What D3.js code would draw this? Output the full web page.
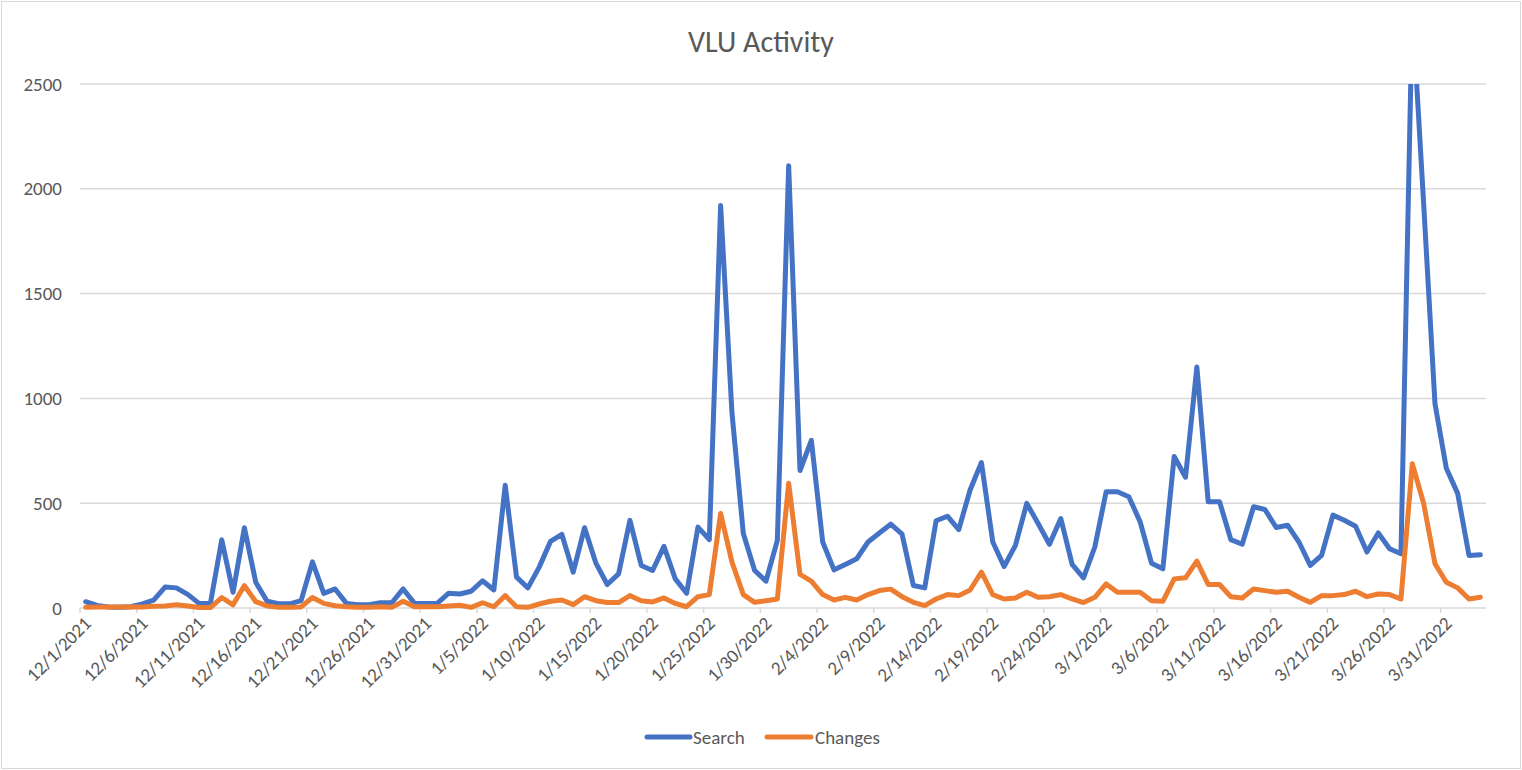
<!DOCTYPE html>
<html>
<head>
<meta charset="utf-8">
<script src="https://cdn.jsdelivr.net/npm/d3@7"></script>
<style>
  html, body { margin: 0; padding: 0; background: #fff; }
  svg { display: block; }
  text { font-family: Calibri, Carlito, Lato, sans-serif; fill: #595959; }
</style>
</head>
<body>
<svg id="chart" width="1522" height="770"></svg>
<script>
// ---- data ----
const title = "VLU Activity";
const startDate = "2021-12-01";
const endDate = "2022-04-04"; // exclusive
const seriesNames = ["Search", "Changes"];
const search = [
  30, 12, 5, 3, 6, 20, 38, 100, 96, 65,
  22, 22, 325, 75, 383, 123, 32, 20, 20, 35,
  220, 70, 91, 22, 16, 16, 25, 25, 91, 22,
  22, 22, 70, 67, 80, 130, 86, 586, 147, 96,
  195, 318, 351, 171, 383, 214, 112, 163, 418, 203,
  179, 294, 139, 70, 386, 326, 1920, 930, 355, 179,
  128, 323, 2110, 656, 800, 315, 182, 208, 235, 315,
  358, 400, 352, 107, 96, 416, 438, 374, 563, 694,
  315, 198, 299, 499, 403, 304, 427, 208, 144, 291,
  555, 555, 531, 411, 214, 187, 723, 624, 1150, 507,
  507, 326, 304, 483, 470, 384, 395, 315, 203, 251,
  443, 419, 390, 267, 358, 283, 259, 2860, 1930, 975,
  667, 547, 251, 254
];
const changes = [
  3, 5, 5, 5, 5, 5, 8, 10, 15, 10,
  2, 2, 50, 15, 107, 30, 10, 3, 3, 5,
  50, 22, 11, 6, 3, 3, 6, 3, 32, 6,
  6, 6, 10, 13, 3, 25, 6, 59, 6, 3,
  19, 32, 38, 16, 54, 35, 26, 26, 59, 35,
  29, 48, 22, 6, 54, 64, 451, 219, 64, 27,
  35, 43, 595, 160, 128, 64, 38, 51, 38, 64,
  83, 90, 54, 27, 11, 43, 64, 59, 86, 171,
  64, 43, 48, 75, 51, 54, 64, 43, 26, 51,
  115, 75, 75, 75, 35, 32, 139, 144, 224, 112,
  112, 54, 48, 91, 83, 75, 80, 51, 27, 59,
  59, 64, 80, 54, 67, 64, 43, 688, 499, 211,
  123, 96, 43, 51
];
const yTicks = [0, 500, 1000, 1500, 2000, 2500];
const colors = ["#4472C4", "#ED7D31"];

// ---- layout ----
const svg = d3.select("#chart");
const W = 1522, H = 770;
const plot = { left: 80, right: 1486, top: 84, bottom: 608 };

svg.append("rect")
  .attr("x", 1.5).attr("y", 1.5).attr("width", W - 3).attr("height", H - 3)
  .attr("fill", "#fff").attr("stroke", "#d9d9d9").attr("stroke-width", 1);

const dates = d3.utcDay.range(new Date(startDate + "T00:00:00Z"), new Date(endDate + "T00:00:00Z"));
const x = d3.scaleUtc()
  .domain([dates[0], new Date(endDate + "T00:00:00Z")])
  .range([plot.left, plot.right]);
const xc = d => x(d3.utcHour.offset(d, 12));
const y = d3.scaleLinear().domain([0, 2500]).range([plot.bottom, plot.top]);

// title
svg.append("text")
  .attr("x", 761).attr("y", 52)
  .attr("text-anchor", "middle")
  .style("font-size", "30px")
  .text(title);

// gridlines
svg.append("g").selectAll("line").data(yTicks.filter(v => v > 0)).join("line")
  .attr("x1", plot.left).attr("x2", plot.right)
  .attr("y1", d => y(d)).attr("y2", d => y(d))
  .attr("stroke", "#d9d9d9").attr("stroke-width", 1.5);

// y labels
svg.append("g").selectAll("text").data(yTicks).join("text")
  .attr("x", 62).attr("y", d => y(d))
  .attr("dy", "0.35em")
  .attr("text-anchor", "end")
  .style("font-size", "19px")
  .text(d => d);

// x axis line
svg.append("line")
  .attr("x1", plot.left).attr("x2", plot.right)
  .attr("y1", plot.bottom).attr("y2", plot.bottom)
  .attr("stroke", "#d9d9d9").attr("stroke-width", 1.5);

const tickDates = dates.filter((d, i) => i % 5 === 0);
svg.append("g").selectAll("line").data(tickDates).join("line")
  .attr("x1", d => x(d)).attr("x2", d => x(d))
  .attr("y1", plot.bottom).attr("y2", plot.bottom + 5)
  .attr("stroke", "#d9d9d9").attr("stroke-width", 1.5);

const fmt = d => (d.getUTCMonth() + 1) + "/" + d.getUTCDate() + "/" + d.getUTCFullYear();
svg.append("g").selectAll("text").data(tickDates).join("text")
  .attr("transform", d => `translate(${xc(d) + 2},${plot.bottom + 12}) rotate(-45)`)
  .attr("text-anchor", "end")
  .attr("dy", "0.35em")
  .style("font-size", "19px")
  .text(fmt);

// clip
svg.append("clipPath").attr("id", "clip").append("rect")
  .attr("x", plot.left - 10).attr("y", plot.top)
  .attr("width", plot.right - plot.left + 20).attr("height", plot.bottom - plot.top + 20);

const line = d3.line().x((v, i) => xc(dates[i])).y(v => y(v));
const g = svg.append("g").attr("clip-path", "url(#clip)");
[search, changes].forEach((arr, k) => {
  g.append("path")
    .attr("d", line(arr))
    .attr("fill", "none")
    .attr("stroke", colors[k])
    .attr("stroke-width", 5)
    .attr("stroke-linejoin", "round")
    .attr("stroke-linecap", "round");
});

// legend
const legendItems = [
  { name: seriesNames[0], color: colors[0], x0: 647, x1: 690, tx: 693 },
  { name: seriesNames[1], color: colors[1], x0: 767, x1: 811, tx: 815 }
];
const lg = svg.append("g");
legendItems.forEach(it => {
  lg.append("line").attr("x1", it.x0).attr("x2", it.x1).attr("y1", 737).attr("y2", 737)
    .attr("stroke", it.color).attr("stroke-width", 5).attr("stroke-linecap", "round");
  lg.append("text").attr("x", it.tx).attr("y", 737).attr("dy", "0.35em")
    .style("font-size", "19px").text(it.name);
});
</script>
</body>
</html>
